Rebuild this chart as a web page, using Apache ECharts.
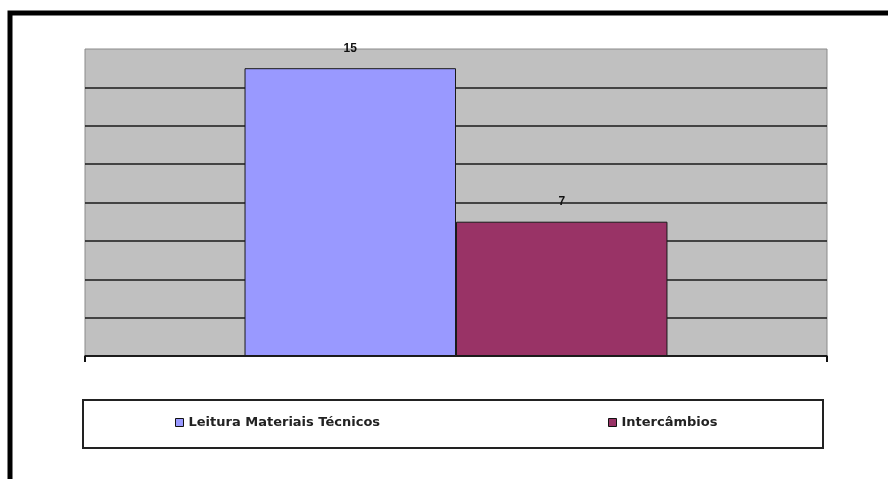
<!DOCTYPE html>
<html>
<head>
<meta charset="utf-8">
<script src="https://cdn.jsdelivr.net/npm/echarts@6/dist/echarts.min.js"></script>
<style>
  html, body { margin: 0; padding: 0; background: #fff; }
  #chart { width: 888px; height: 479px; }
</style>
</head>
<body>
<div id="chart"></div>
<script>
// dados
var categories = [''];
var seriesNames = ['Leitura Materiais Técnicos', 'Intercâmbios'];
var leituraValues = [15];
var intercambiosValues = [7];
var colors = ['#9999ff', '#993366'];

var chart = echarts.init(document.getElementById('chart'));

var labelFont = {
  show: true,
  position: 'top',
  distance: 14,
  color: '#111',
  fontFamily: 'Liberation Sans, Arial',
  fontWeight: 'bold',
  fontSize: 12
};

function legendItem(name, left) {
  return {
    data: [name],
    left: left,
    top: 416,
    padding: 0,
    icon: 'rect',
    itemWidth: 8,
    itemHeight: 8,
    selectedMode: false,
    itemStyle: { borderColor: '#111', borderWidth: 1 },
    textStyle: {
      color: '#222',
      fontFamily: 'DejaVu Sans',
      fontWeight: 'bold',
      fontSize: 13
    }
  };
}

var option = {
  animation: false,
  backgroundColor: '#fff',
  color: colors,
  graphic: [
    {
      type: 'rect',
      shape: { x: 10, y: 13, width: 900, height: 500 },
      style: { fill: 'none', stroke: '#000', lineWidth: 5 },
      z: 100
    },
    {
      type: 'rect',
      shape: { x: 83, y: 400, width: 740, height: 48 },
      style: { fill: '#fff', stroke: '#222', lineWidth: 2 },
      z: -1
    }
  ],
  legend: [
    legendItem(seriesNames[0], 175),
    legendItem(seriesNames[1], 608)
  ],
  grid: {
    left: 85,
    right: 61,
    top: 49,
    bottom: 123,
    show: true,
    backgroundColor: '#c0c0c0',
    borderColor: '#8a8a8a',
    borderWidth: 1
  },
  xAxis: {
    type: 'category',
    data: categories,
    axisLine: { lineStyle: { color: '#111', width: 1.5 } },
    axisTick: { show: true, length: 6, lineStyle: { color: '#111', width: 2 } },
    axisLabel: { show: false }
  },
  yAxis: {
    type: 'value',
    min: 0,
    max: 16,
    interval: 2,
    axisLine: { show: false },
    axisTick: { show: false },
    axisLabel: { show: false },
    splitLine: { showMaxLine: false, lineStyle: { color: '#1a1a1a', width: 1.5 } }
  },
  series: [
    {
      name: seriesNames[0],
      type: 'bar',
      data: leituraValues,
      barGap: 0,
      barCategoryGap: '43%',
      itemStyle: { color: colors[0], borderColor: '#1a1a1a', borderWidth: 1 },
      label: labelFont
    },
    {
      name: seriesNames[1],
      type: 'bar',
      data: intercambiosValues,
      itemStyle: { color: colors[1], borderColor: '#1a1a1a', borderWidth: 1 },
      label: labelFont
    }
  ]
};

chart.setOption(option);
</script>
</body>
</html>
